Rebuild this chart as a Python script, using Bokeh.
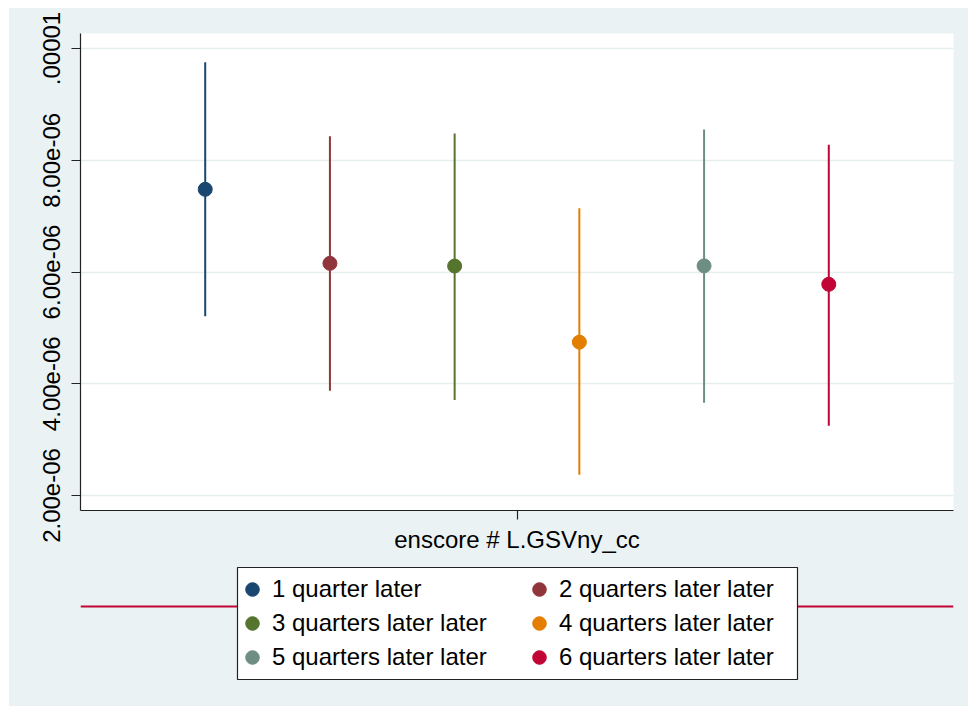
from bokeh.plotting import figure
from bokeh.layouts import column
from bokeh.models import (Range1d, FixedTicker, CustomJSTickFormatter, Legend,
                          LegendItem, Span, BoxAnnotation, ColumnDataSource)
from bokeh.embed import file_html
from bokeh.resources import INLINE

# ---------------- data ----------------
series = ["1 quarter later", "2 quarters later later", "3 quarters later later",
          "4 quarters later later", "5 quarters later later", "6 quarters later later"]
xpos = [1, 2, 3, 4, 5, 6]
estimate = [7.48e-6, 6.155e-6, 6.107e-6, 4.745e-6, 6.11e-6, 5.78e-6]
ci_low = [5.21e-6, 3.875e-6, 3.71e-6, 2.37e-6, 3.66e-6, 3.25e-6]
ci_high = [9.755e-6, 8.43e-6, 8.48e-6, 7.14e-6, 8.55e-6, 8.28e-6]
colors = ["#1a476f", "#90353b", "#55752f", "#e37e00", "#6e8e84", "#c10534"]
y_ticks = [2e-6, 4e-6, 6e-6, 8e-6, 1e-5]
y_tick_labels = ["2.00e-06", "4.00e-06", "6.00e-06", "8.00e-06", ".00001"]
x_title = "enscore # L.GSVny_cc"

BG = "#EAF2F3"
FONT = "Liberation Sans"
W = 959

# ---------------- main plot ----------------
p = figure(width=W, height=552, output_backend="svg", toolbar_location=None,
           x_range=Range1d(0, 7), y_range=Range1d(1.7315e-6, 1.0269e-5),
           min_border_left=71, min_border_right=15, min_border_top=25,
           min_border_bottom=50)
p.background_fill_color = "white"
p.border_fill_color = BG
p.outline_line_color = None

sources = []
for i in range(len(series)):
    src = ColumnDataSource(dict(x=[xpos[i]], y=[estimate[i]],
                                lo=[ci_low[i]], hi=[ci_high[i]]))
    sources.append(src)
    p.segment(x0="x", y0="lo", x1="x", y1="hi", source=src,
              line_color=colors[i], line_width=2)
    p.scatter(x="x", y="y", source=src, size=14, fill_color=colors[i],
              line_color=colors[i])

# y axis
yax = p.yaxis[0]
yax.ticker = FixedTicker(ticks=y_ticks)
yax.formatter = CustomJSTickFormatter(
    args=dict(vals=y_ticks, labs=y_tick_labels),
    code="""
    for (let i = 0; i < vals.length; i++) {
        if (Math.abs(vals[i] - tick) < 1e-12) { return labs[i]; }
    }
    return "";
    """)
yax.major_label_orientation = "vertical"
yax.major_label_text_font = FONT
yax.major_label_text_font_size = "24px"
yax.major_label_text_color = "black"
yax.major_label_standoff = 11
yax.major_tick_out = 9
yax.major_tick_in = 0
yax.minor_tick_out = 0
yax.minor_tick_in = 0
yax.axis_line_color = "#222222"
yax.axis_line_width = 1.2
yax.major_tick_line_color = "#222222"
yax.major_tick_line_width = 1.2

# x axis
xax = p.xaxis[0]
xax.ticker = FixedTicker(ticks=[sum(xpos) / len(xpos)])
xax.formatter = CustomJSTickFormatter(code="return '';")
xax.major_label_text_font_size = "1px"
xax.major_label_standoff = 0
xax.major_tick_out = 9
xax.major_tick_in = 0
xax.minor_tick_out = 0
xax.axis_line_color = "#222222"
xax.axis_line_width = 1.2
xax.major_tick_line_color = "#222222"
xax.major_tick_line_width = 1.2
xax.axis_label = x_title
xax.axis_label_text_font = FONT
xax.axis_label_text_font_size = "24px"
xax.axis_label_text_font_style = "normal"
xax.axis_label_text_color = "black"
xax.axis_label_standoff = 6

p.xgrid.visible = False
p.ygrid.grid_line_color = "#E6EEF0"
p.ygrid.grid_line_width = 1.5

# ---------------- legend strip ----------------
q = figure(width=W, height=146, output_backend="svg", toolbar_location=None,
           x_range=Range1d(0, 873), y_range=Range1d(0, 146),
           x_axis_location=None, y_axis_location=None,
           min_border_left=71, min_border_right=15, min_border_top=0,
           min_border_bottom=0)
q.background_fill_color = None
q.border_fill_color = BG
q.outline_line_color = None
q.xgrid.visible = False
q.ygrid.visible = False

q.add_layout(Span(location=100, dimension="width", line_color=colors[5],
                  line_width=2, level="underlay"))
q.add_layout(BoxAnnotation(left=157, right=717, bottom=27, top=139,
                           fill_color="white", fill_alpha=1.0,
                           line_color="#222222", line_width=1.2,
                           line_alpha=1.0, level="underlay"))

proxies = []
for i in range(len(series)):
    d = q.scatter(x="x", y="y", source=sources[i], size=14,
                  fill_color=colors[i], line_color=colors[i], visible=False)
    proxies.append(d)

common = dict(padding=5, spacing=0, glyph_width=34, glyph_height=34,
              label_height=34, label_standoff=3, label_text_font=FONT,
              label_text_font_size="24px", label_text_color="black",
              margin=0, border_line_color="white", border_line_alpha=0.0,
              background_fill_alpha=0.0)

legA = Legend(items=[LegendItem(label=series[i], renderers=[proxies[i]]) for i in (0, 2, 4)],
              location=(150, 27), **common)
legB = Legend(items=[LegendItem(label=series[i], renderers=[proxies[i]]) for i in (1, 3, 5)],
              location=(437, 27), **common)
q.add_layout(legA)
q.add_layout(legB)

layout = column(p, q, spacing=0, margin=(8, 0, 0, 9),
                styles={"background-color": BG})
open("out.html", "w").write(file_html(layout, INLINE))
